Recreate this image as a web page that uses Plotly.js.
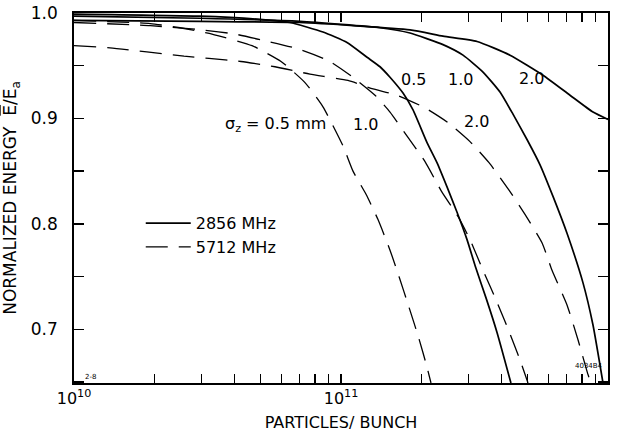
<!DOCTYPE html>
<html><head><meta charset="utf-8">
<script src="https://cdn.plot.ly/plotly-3.0.1.min.js"></script>
<style>html,body{margin:0;padding:0;background:#fff;}#chart{width:625px;height:437px;}</style>
</head><body><div id="chart"></div>
<script>
// 2856 MHz (solid), bunch length sigma_z = 0.5, 1.0, 2.0 mm
const s05N = [1e10, 2.96e10, 4.97e10, 6.44e10, 8.56e10, 1.053e11, 1.252e11, 1.40e11, 1.526e11, 1.707e11, 1.861e11, 2.10e11, 2.288e11, 2.495e11, 2.72e11, 2.965e11, 3.20e11, 3.49e11, 3.84e11, 4.33e11];
const s05E = [0.999, 0.997, 0.994, 0.991, 0.982, 0.972, 0.958, 0.949, 0.939, 0.924, 0.908, 0.877, 0.858, 0.835, 0.811, 0.785, 0.758, 0.730, 0.697, 0.649];
const s10N = [1e10, 2.96e10, 7.02e10, 1.40e11, 1.813e11, 2.41e11, 2.864e11, 3.403e11, 3.94e11, 4.407e11, 4.973e11, 5.564e11, 6.223e11, 7.022e11, 8.061e11, 8.786e11, 9.578e11];
const s10E = [0.997, 0.995, 0.992, 0.986, 0.981, 0.970, 0.960, 0.944, 0.925, 0.904, 0.880, 0.856, 0.826, 0.791, 0.744, 0.704, 0.649];
const s20N = [1e10, 2.96e10, 7.02e10, 1.813e11, 2.41e11, 3.232e11, 4.295e11, 5.71e11, 7.205e11, 8.786e11, 1e12];
const s20E = [0.993, 0.992, 0.991, 0.984, 0.978, 0.973, 0.960, 0.941, 0.922, 0.906, 0.899];
// 5712 MHz (dashed)
const d05N = [1e10, 1.93e10, 2.495e10, 3.287e10, 4.642e10, 5.962e10, 7.33e10, 8.56e10, 1.017e11, 1.109e11, 1.241e11, 1.376e11, 1.526e11, 1.649e11, 1.797e11, 1.959e11, 2.10e11, 2.173e11];
const d05E = [0.993, 0.990, 0.986, 0.980, 0.969, 0.954, 0.934, 0.911, 0.874, 0.850, 0.828, 0.804, 0.775, 0.750, 0.721, 0.691, 0.664, 0.649];
const d10N = [1e10, 1.93e10, 3.016e10, 4.009e10, 5.33e10, 6.90e10, 8.94e10, 1.109e11, 1.341e11, 1.526e11, 1.782e11, 2.064e11, 2.389e11, 2.743e11, 3.042e11, 3.403e11, 3.806e11, 4.258e11, 4.681e11, 5.016e11];
const d10E = [0.991, 0.988, 0.984, 0.980, 0.973, 0.966, 0.955, 0.939, 0.922, 0.906, 0.882, 0.859, 0.830, 0.807, 0.785, 0.756, 0.728, 0.698, 0.671, 0.649];
const d20N = [1e10, 1.364e10, 2.582e10, 3.203e10, 4.222e10, 5.66e10, 7.65e10, 1.062e11, 1.318e11, 1.621e11, 2.064e11, 2.516e11, 3.042e11, 3.584e11, 4.258e11, 4.888e11, 5.66e11, 6.17e11, 7.022e11, 7.72e11, 8.415e11, 8.636e11];
const d20E = [0.969, 0.967, 0.959, 0.957, 0.954, 0.949, 0.942, 0.936, 0.928, 0.922, 0.910, 0.896, 0.878, 0.858, 0.832, 0.809, 0.782, 0.756, 0.723, 0.690, 0.657, 0.649];

// tick positions (labelled decades plus unlabelled 2..9 marks)
const xTickVals = [1e10, 2e10, 3e10, 4e10, 5e10, 6e10, 7e10, 8e10, 9e10, 1e11, 2e11, 3e11, 4e11, 5e11, 6e11, 7e11, 8e11, 9e11, 1e12];
const xTickText = ['10<sup>10</sup>', '', '', '', '', '', '', '', '', '10<sup>11</sup>', '', '', '', '', '', '', '', '', '10<sup>12</sup>'];
const yTickVals = [0.65, 0.7, 0.75, 0.8, 0.85, 0.9, 0.95, 1.0];
const yTickText = ['', '0.7\u00a0\u00a0', '', '0.8\u00a0\u00a0', '', '0.9\u00a0\u00a0', '', '1.0\u00a0\u00a0'];

const FONT = 'DejaVu Sans, sans-serif';
const solid = {color: '#000', width: 1.7, shape: 'spline', smoothing: 0.5};
const dashed = {color: '#000', width: 1.3, dash: '22px,11px', shape: 'spline', smoothing: 0.5};

const traces = [
  {x: s05N, y: s05E, mode: 'lines', line: solid, name: '2856 MHz', showlegend: true},
  {x: s10N, y: s10E, mode: 'lines', line: solid, showlegend: false},
  {x: s20N, y: s20E, mode: 'lines', line: solid, showlegend: false},
  {x: d05N, y: d05E, mode: 'lines', line: dashed, name: '5712 MHz', showlegend: true},
  {x: d10N, y: d10E, mode: 'lines', line: dashed, showlegend: false},
  {x: d20N, y: d20E, mode: 'lines', line: dashed, showlegend: false}
];

const lblFont = {family: FONT, size: 16, color: '#000'};
const layout = {
  width: 625, height: 437,
  margin: {l: 74, r: 17, t: 13, b: 54},
  paper_bgcolor: '#fff', plot_bgcolor: '#fff',
  font: {family: FONT, color: '#000', size: 16},
  xaxis: {
    type: 'log', range: [10, 12],
    tickmode: 'array', tickvals: xTickVals, ticktext: xTickText,
    ticks: 'inside', ticklen: 9, tickwidth: 1.4, tickcolor: '#000',
    showline: true, linecolor: '#000', linewidth: 2, mirror: 'ticks',
    showgrid: false, zeroline: false,
    tickfont: {family: FONT, size: 16, color: '#000'},
    title: {text: 'PARTICLES/ BUNCH', font: {family: FONT, size: 16, color: '#000'}, standoff: 10}
  },
  yaxis: {
    range: [0.649, 1.0],
    tickmode: 'array', tickvals: yTickVals, ticktext: yTickText,
    ticks: 'inside', ticklen: 10, tickwidth: 1.4, tickcolor: '#000',
    showline: true, linecolor: '#000', linewidth: 2, mirror: 'ticks',
    showgrid: false, zeroline: false,
    tickfont: {family: FONT, size: 17, color: '#000'},
    title: {text: 'NORMALIZED ENERGY  <span style="text-decoration:overline">E</span>/E<sub>a</sub>', font: {family: FONT, size: 17, color: '#000'}, standoff: 10}
  },
  legend: {
    x: 0.125, y: 0.478, xanchor: 'left', yanchor: 'top',
    bgcolor: 'rgba(0,0,0,0)', borderwidth: 0,
    font: {family: FONT, size: 16, color: '#000'},
    itemwidth: 45, tracegroupgap: 0, traceorder: 'normal'
  },
  annotations: [
    {x: 10.753, y: 0.894, xref: 'x', yref: 'y', text: 'σ<sub>z</sub> = 0.5 mm', showarrow: false, font: lblFont},
    {x: 11.09, y: 0.894, xref: 'x', yref: 'y', text: '1.0', showarrow: false, font: lblFont},
    {x: 11.509, y: 0.897, xref: 'x', yref: 'y', text: '2.0', showarrow: false, font: lblFont},
    {x: 11.27, y: 0.937, xref: 'x', yref: 'y', text: '0.5', showarrow: false, font: lblFont},
    {x: 11.446, y: 0.937, xref: 'x', yref: 'y', text: '1.0', showarrow: false, font: lblFont},
    {x: 11.715, y: 0.938, xref: 'x', yref: 'y', text: '2.0', showarrow: false, font: lblFont},
    {x: 0.03, y: 0.0, xref: 'paper', yref: 'paper', xanchor: 'center', text: '2-8', showarrow: false, font: {family: FONT, size: 7, color: '#000'}},
    {x: 0.965, y: 0.03, xref: 'paper', yref: 'paper', xanchor: 'center', text: '4034B4', showarrow: false, font: {family: FONT, size: 7, color: '#000'}}
  ]
};

Plotly.newPlot('chart', traces, layout, {displayModeBar: false, staticPlot: true});
</script>
</body></html>
